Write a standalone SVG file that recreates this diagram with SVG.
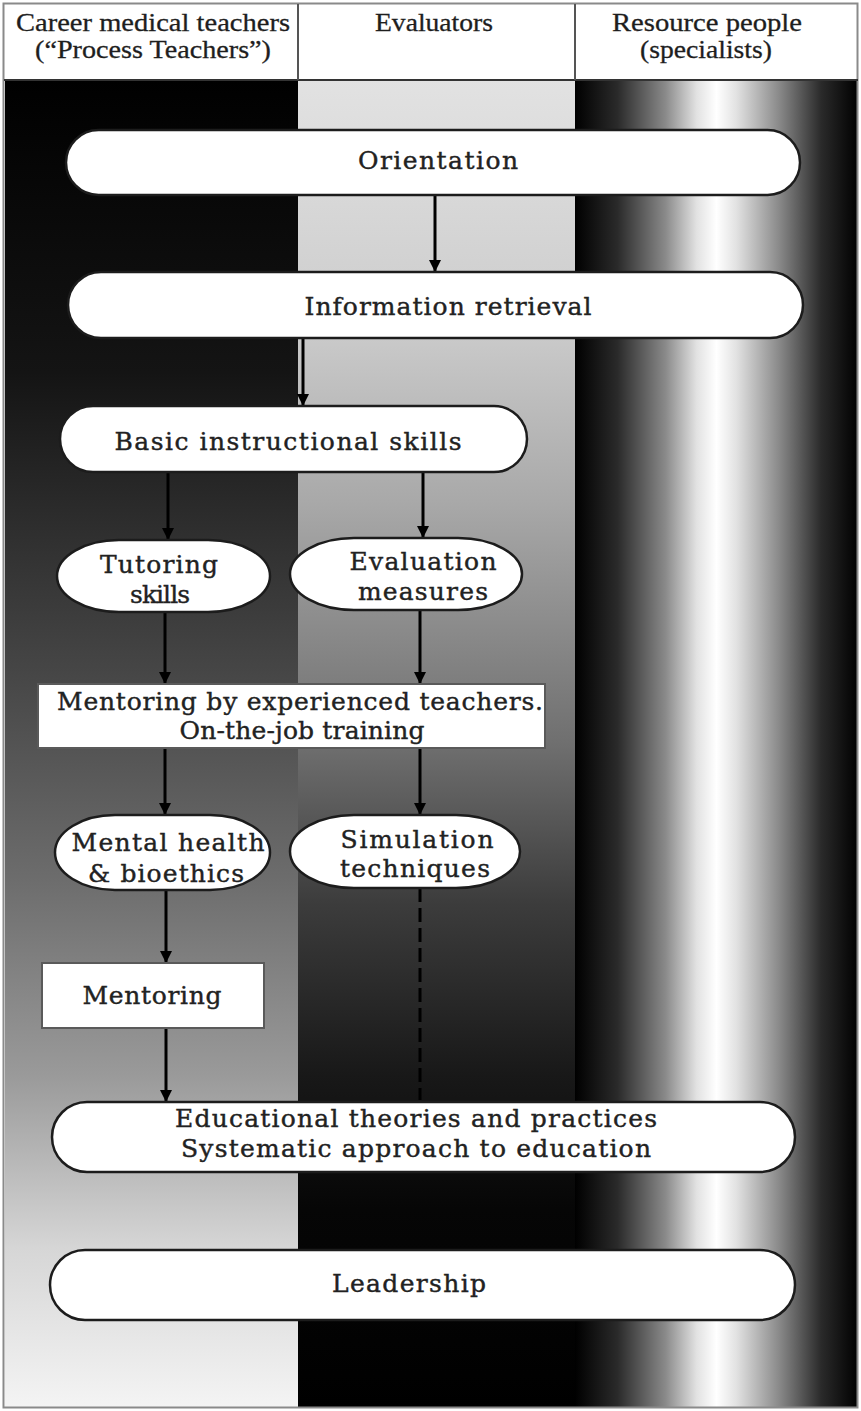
<svg xmlns="http://www.w3.org/2000/svg" width="861" height="1411" viewBox="0 0 861 1411">
  <defs>
    <!-- lane shading -->
    <linearGradient id="laneLeft" x1="0" y1="0" x2="0" y2="1">
      <stop offset="0" stop-color="#000"/>
      <stop offset="0.22" stop-color="#141414"/>
      <stop offset="0.45" stop-color="#474747"/>
      <stop offset="0.6" stop-color="#6c6c6c"/>
      <stop offset="0.75" stop-color="#9a9a9a"/>
      <stop offset="0.88" stop-color="#d6d6d6"/>
      <stop offset="1" stop-color="#f4f4f4"/>
    </linearGradient>
    <linearGradient id="laneMid" x1="0" y1="0" x2="0" y2="1">
      <stop offset="0" stop-color="#e2e2e2"/>
      <stop offset="0.18" stop-color="#cdcdcd"/>
      <stop offset="0.32" stop-color="#a8a8a8"/>
      <stop offset="0.5" stop-color="#6f6f6f"/>
      <stop offset="0.62" stop-color="#3c3c3c"/>
      <stop offset="0.75" stop-color="#181818"/>
      <stop offset="0.85" stop-color="#060606"/>
      <stop offset="1" stop-color="#000"/>
    </linearGradient>
    <linearGradient id="laneRight" x1="0" y1="0" x2="1" y2="0">
      <stop offset="0" stop-color="#000"/>
      <stop offset="0.15" stop-color="#2a2a2a"/>
      <stop offset="0.32" stop-color="#8a8a8a"/>
      <stop offset="0.43" stop-color="#e2e2e2"/>
      <stop offset="0.5" stop-color="#fff"/>
      <stop offset="0.57" stop-color="#e2e2e2"/>
      <stop offset="0.72" stop-color="#8a8a8a"/>
      <stop offset="0.87" stop-color="#2a2a2a"/>
      <stop offset="1" stop-color="#000"/>
    </linearGradient>
    <marker id="arrow" viewBox="0 0 10 10" refX="10" refY="5" markerWidth="12" markerHeight="13" markerUnits="userSpaceOnUse" orient="auto">
      <path d="M0,0 L10,5 L0,10 z" fill="#000"/>
    </marker>
    <style>
      .shape { fill: #fff; stroke: #1c1c1c; stroke-width: 2.5; }
      .box { fill: #fff; stroke: #5a5a5a; stroke-width: 2; }
      .label { font-family: "DejaVu Serif", "Liberation Serif", serif; font-size: 25px; fill: #222; stroke: #222; stroke-width: 0.4; text-anchor: middle; }
      .head { font-family: "Liberation Serif", "DejaVu Serif", serif; font-size: 26px; fill: #1e1e1e; stroke: #1e1e1e; stroke-width: 0.3; text-anchor: middle; }
      .link { stroke: #000; stroke-width: 3; fill: none; }
      .dash { stroke: #000; stroke-width: 3; fill: none; stroke-dasharray: 14 6; }
    </style>
  </defs>

  <!-- lanes -->
  <g id="lanes">
    <rect x="0" y="0" width="861" height="1411" fill="#fff"/>
    <rect x="5" y="80" width="293" height="1328" fill="url(#laneLeft)"/>
    <rect x="298" y="80" width="277" height="1328" fill="url(#laneMid)"/>
    <rect x="575" y="80" width="283" height="1328" fill="url(#laneRight)"/>
    <rect x="3.5" y="3.5" width="854" height="1404" fill="none" stroke="#8a8a8a" stroke-width="2"/>
    <line x1="4" y1="80" x2="858" y2="80" stroke="#333" stroke-width="2"/>
    <line x1="298" y1="4" x2="298" y2="80" stroke="#555" stroke-width="2"/>
    <line x1="575" y1="4" x2="575" y2="80" stroke="#555" stroke-width="2"/>
  </g>

  <!-- lane headings -->
  <g id="headings">
    <text class="head" x="153" y="31" textLength="274" lengthAdjust="spacingAndGlyphs">Career medical teachers</text>
    <text class="head" x="153" y="58" textLength="236" lengthAdjust="spacingAndGlyphs">(“Process Teachers”)</text>
    <text class="head" x="434" y="31" textLength="118" lengthAdjust="spacingAndGlyphs">Evaluators</text>
    <text class="head" x="707" y="31" textLength="190" lengthAdjust="spacingAndGlyphs">Resource people</text>
    <text class="head" x="706" y="58" textLength="132" lengthAdjust="spacingAndGlyphs">(specialists)</text>
  </g>

  <!-- connectors -->
  <g id="connectors">
    <line class="link" x1="435" y1="195" x2="435" y2="272" marker-end="url(#arrow)"/>
    <line class="link" x1="303" y1="338" x2="303" y2="406" marker-end="url(#arrow)"/>
    <line class="link" x1="168" y1="472" x2="168" y2="540" marker-end="url(#arrow)"/>
    <line class="link" x1="423" y1="472" x2="423" y2="538" marker-end="url(#arrow)"/>
    <line class="link" x1="165" y1="612" x2="165" y2="684" marker-end="url(#arrow)"/>
    <line class="link" x1="420" y1="610" x2="420" y2="684" marker-end="url(#arrow)"/>
    <line class="link" x1="165" y1="748" x2="165" y2="815" marker-end="url(#arrow)"/>
    <line class="link" x1="420" y1="748" x2="420" y2="815" marker-end="url(#arrow)"/>
    <line class="link" x1="166" y1="890" x2="166" y2="963" marker-end="url(#arrow)"/>
    <line class="link" x1="166" y1="1028" x2="166" y2="1102" marker-end="url(#arrow)"/>
    <line class="dash" x1="420" y1="888" x2="420" y2="1100"/>
  </g>

  <!-- steps -->
  <g id="orientation">
    <rect class="shape" x="66" y="130" width="734" height="65" rx="32.5" ry="32.5"/>
    <text class="label" x="438" y="169" textLength="160" lengthAdjust="spacing">Orientation</text>
  </g>
  <g id="information-retrieval">
    <rect class="shape" x="68" y="272" width="735" height="66" rx="33" ry="33"/>
    <text class="label" x="448" y="315" textLength="287" lengthAdjust="spacing">Information retrieval</text>
  </g>
  <g id="basic-instructional-skills">
    <rect class="shape" x="60" y="406" width="467" height="66" rx="33" ry="33"/>
    <text class="label" x="288" y="450" textLength="347" lengthAdjust="spacing">Basic instructional skills</text>
  </g>
  <g id="tutoring-skills">
    <rect class="shape" x="57" y="540" width="213" height="72" rx="62" ry="36"/>
    <text class="label" x="159" y="573" textLength="118" lengthAdjust="spacing">Tutoring</text>
    <text class="label" x="160" y="603" textLength="60" lengthAdjust="spacing">skills</text>
  </g>
  <g id="evaluation-measures">
    <rect class="shape" x="290" y="538" width="232" height="72" rx="64" ry="36"/>
    <text class="label" x="423" y="570" textLength="147" lengthAdjust="spacing">Evaluation</text>
    <text class="label" x="423" y="600" textLength="130" lengthAdjust="spacing">measures</text>
  </g>
  <g id="mentoring-experienced">
    <rect class="box" x="38" y="684" width="507" height="64"/>
    <text class="label" x="300" y="710" textLength="486" lengthAdjust="spacing">Mentoring by experienced teachers.</text>
    <text class="label" x="302" y="739" textLength="245" lengthAdjust="spacing">On-the-job training</text>
  </g>
  <g id="mental-health-bioethics">
    <rect class="shape" x="55" y="815" width="215" height="75" rx="60" ry="37.5"/>
    <text class="label" x="168" y="851" textLength="193" lengthAdjust="spacing">Mental health</text>
    <text class="label" x="166" y="882" textLength="156" lengthAdjust="spacing">&amp; bioethics</text>
  </g>
  <g id="simulation-techniques">
    <rect class="shape" x="290" y="815" width="230" height="73" rx="64" ry="36.5"/>
    <text class="label" x="417" y="848" textLength="153" lengthAdjust="spacing">Simulation</text>
    <text class="label" x="415" y="877" textLength="150" lengthAdjust="spacing">techniques</text>
  </g>
  <g id="mentoring">
    <rect class="box" x="42" y="963" width="222" height="65"/>
    <text class="label" x="152" y="1004" textLength="139" lengthAdjust="spacing">Mentoring</text>
  </g>
  <g id="educational-theories">
    <rect class="shape" x="52" y="1102" width="743" height="70" rx="35" ry="35"/>
    <text class="label" x="416" y="1127" textLength="482" lengthAdjust="spacing">Educational theories and practices</text>
    <text class="label" x="416" y="1157" textLength="470" lengthAdjust="spacing">Systematic approach to education</text>
  </g>
  <g id="leadership">
    <rect class="shape" x="50" y="1250" width="745" height="70" rx="35" ry="35"/>
    <text class="label" x="409" y="1292" textLength="154" lengthAdjust="spacing">Leadership</text>
  </g>
</svg>
